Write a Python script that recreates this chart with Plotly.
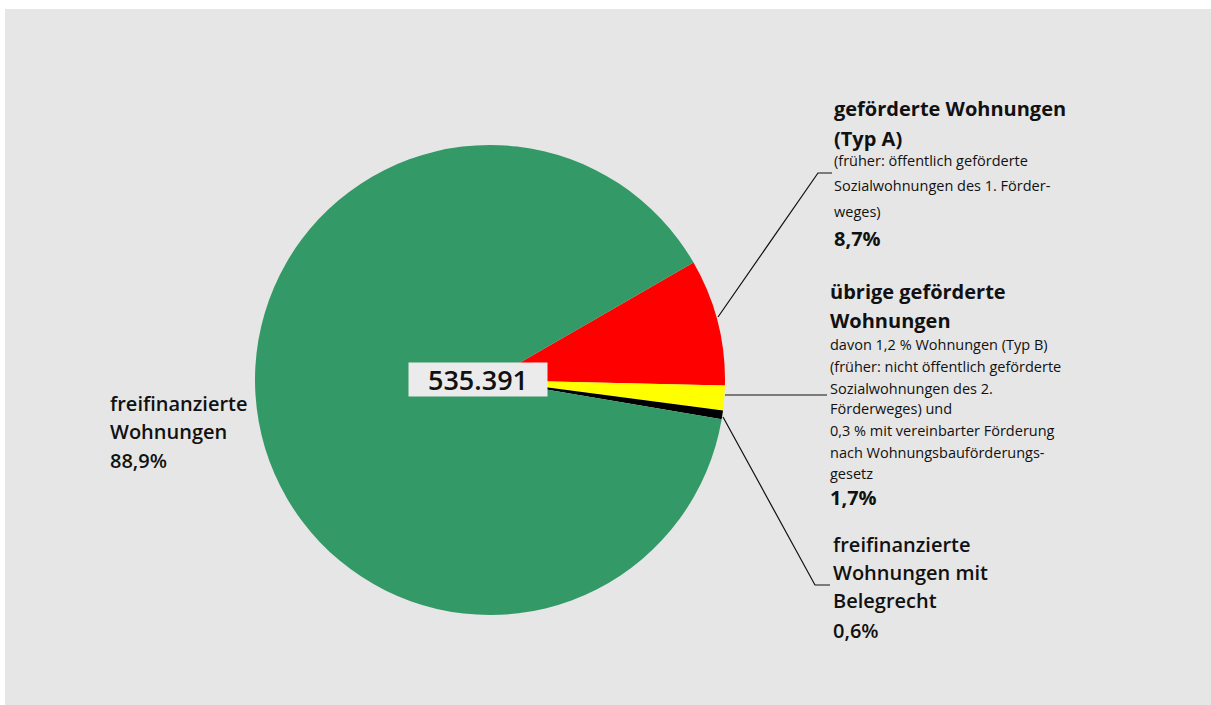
import plotly.graph_objects as go

W, H = 1211, 705

# ---- data ----
categories = ["geförderte Wohnungen (Typ A)", "übrige geförderte Wohnungen",
              "freifinanzierte Wohnungen mit Belegrecht", "freifinanzierte Wohnungen"]
shares = [8.7, 1.7, 0.6, 88.9]
colors = ["#ff0000", "#ffff00", "#000000", "#339966"]
total_label = "535.391"

# label blocks: (text, kind) kinds: "head" (bold) / "mid" (semibold) / "small"
block_a = [("geförderte Wohnungen", "head"), ("(Typ A)", "head"),
           ("(früher: öffentlich geförderte", "small"),
           ("Sozialwohnungen des 1. Förder-", "small"), ("weges)", "small"),
           ("8,7%", "head")]
block_a_y = [108, 138, 160, 185, 211, 238]
block_b = [("übrige geförderte", "head"), ("Wohnungen", "head"),
           ("davon 1,2 % Wohnungen (Typ B)", "small"),
           ("(früher: nicht öffentlich geförderte", "small"),
           ("Sozialwohnungen des 2.", "small"), ("Förderweges) und", "small"),
           ("0,3 % mit vereinbarter Förderung", "small"),
           ("nach Wohnungsbauförderungs-", "small"), ("gesetz", "small"),
           ("1,7%", "head")]
block_b_y = [292, 320, 344, 366, 388, 409, 430, 452, 473, 497]
block_c = [("freifinanzierte", "mid"), ("Wohnungen mit", "mid"),
           ("Belegrecht", "mid"), ("0,6%", "mid")]
block_c_y = [544, 572, 600, 630]
block_d = [("freifinanzierte", "mid"), ("Wohnungen", "mid"), ("88,9%", "mid")]
block_d_y = [403, 431, 461]

FONT = "Open Sans"

def px(x):
    return x / W

def py(y):
    return 1 - y / H

fig = go.Figure()
fig.add_trace(go.Pie(
    labels=categories, values=shares, sort=False, direction="clockwise",
    rotation=60, marker=dict(colors=colors, line=dict(width=0)),
    textinfo="none", hoverinfo="label+percent", showlegend=False,
    domain=dict(x=[px(255), px(725)], y=[py(615), py(145)]),
))

shapes = [
    dict(type="rect", xref="paper", yref="paper", x0=px(5), x1=1, y0=0, y1=py(9),
         fillcolor="#e6e6e6", line=dict(width=0), layer="below"),
    dict(type="path", xref="paper", yref="paper",
         path=f"M {px(718)},{py(317)} L {px(818)},{py(173)} L {px(832)},{py(173)}",
         line=dict(color="#111", width=1.2)),
    dict(type="line", xref="paper", yref="paper", x0=px(725), y0=py(395), x1=px(827), y1=py(395),
         line=dict(color="#111", width=1.2)),
    dict(type="path", xref="paper", yref="paper",
         path=f"M {px(723)},{py(417)} L {px(815)},{py(585)} L {px(830)},{py(585)}",
         line=dict(color="#111", width=1.2)),
]

annotations = []
STYLES = {
    "head": dict(family=FONT, size=20, color="#111", weight=700),
    "mid": dict(family=FONT, size=20, color="#111", weight=600),
    "small": dict(family=FONT, size=14.5, color="#111"),
}

def add_block(block, ys, x):
    for (t, kind), y in zip(block, ys):
        annotations.append(dict(x=px(x), y=py(y), xref="paper", yref="paper", text=t,
                                showarrow=False, xanchor="left", yanchor="middle",
                                font=STYLES[kind]))

add_block(block_a, block_a_y, 832)
add_block(block_b, block_b_y, 828)
add_block(block_c, block_c_y, 831)
add_block(block_d, block_d_y, 108)

annotations.append(dict(x=px(478), y=py(379), xref="paper", yref="paper", text=total_label,
                        showarrow=False, xanchor="center", yanchor="middle",
                        font=dict(family=FONT, size=27, color="#111", weight=600),
                        bgcolor="#ebebeb", width=132, height=27, borderpad=3))

fig.update_layout(width=W, height=H, margin=dict(l=0, r=0, t=0, b=0),
                  paper_bgcolor="white", plot_bgcolor="white",
                  shapes=shapes, annotations=annotations)

fig.write_html("out.html", config={"displayModeBar": False},
               post_script="document.body.style.margin='0';document.body.style.overflow='hidden';")
